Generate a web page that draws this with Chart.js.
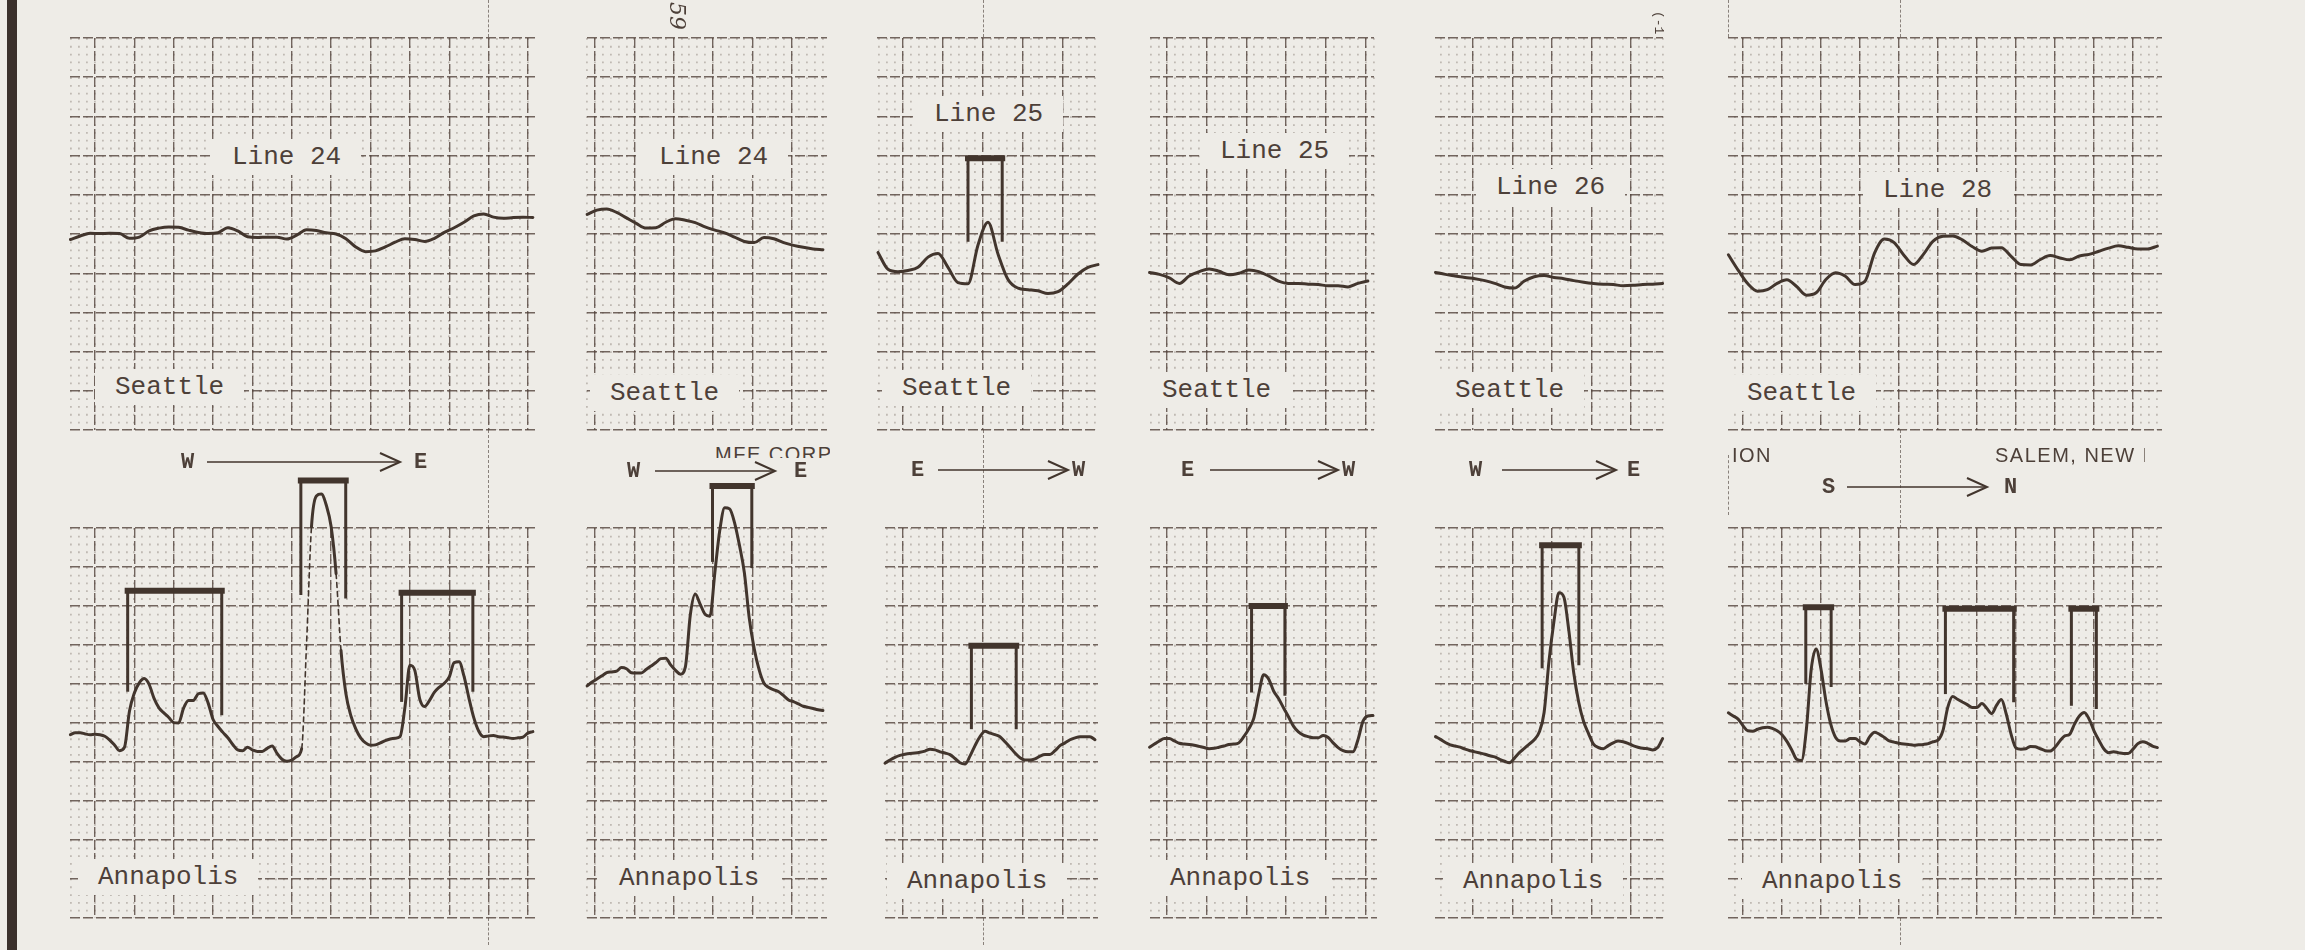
<!DOCTYPE html>
<html>
<head>
<meta charset="utf-8">
<script src="https://cdn.jsdelivr.net/npm/chart.js@4/dist/chart.umd.min.js"></script>
<style>
html, body { margin: 0; padding: 0; background: #eeece7; }
#page { position: relative; width: 2305px; height: 950px; overflow: hidden; background: #eeece7; }
canvas { position: absolute; z-index: 1; }
.t { position: absolute; z-index: 3; white-space: nowrap; line-height: 1; color: #4d4039;
     font-family: "Liberation Mono", "DejaVu Sans Mono", monospace; font-size: 26px; }
.lab { background: #eeece7; padding: 5px 20px; margin: -5px 0 0 -20px; }
.dir { font-size: 22px; font-weight: bold; }
.sans { font-family: "Liberation Sans", Arial, sans-serif; font-size: 20px; letter-spacing: 1.5px; }
.fold { position: absolute; z-index: 0; width: 0; border-left: 1.5px dashed rgba(70,58,52,0.6); }
svg { position: absolute; z-index: 3; overflow: visible; }
</style>
</head>
<body>
<div id="page"></div>
<script>
// ---- text ----
const lineLabels = ['Line 24', 'Line 24', 'Line 25', 'Line 25', 'Line 26', 'Line 28'];
const topStation = 'Seattle';
const bottomStation = 'Annapolis';
const dirFrom = ['W', 'W', 'E', 'E', 'W', 'S'];
const dirTo = ['E', 'E', 'W', 'W', 'E', 'N'];

// ---- traces, in grid divisions (y: 0 = bottom edge of strip, 10 = top edge) ----
const topStart = [-0.625, -0.2, -0.625, -0.44, -0.95, -0.375];
const topStep = 0.25;
const seattle1 = [4.86,4.95,5.02,5.01,5.02,5.01,4.89,4.92,5.08,5.15,5.18,5.17,5.10,5.04,5.01,5.03,5.16,5.08,4.93,4.91,4.92,4.92,4.87,4.97,5.11,5.09,5.03,5.00,4.88,4.67,4.55,4.57,4.67,4.79,4.88,4.86,4.81,4.89,5.04,5.16,5.30,5.46,5.51,5.43,5.40,5.42,5.43,5.42];
const seattle2 = [5.50,5.61,5.64,5.55,5.41,5.27,5.15,5.16,5.30,5.39,5.35,5.29,5.18,5.10,5.03,4.92,4.81,4.78,4.91,4.88,4.78,4.71,4.66,4.62,4.60];
const seattle3 = [4.53,4.10,4.04,4.07,4.15,4.41,4.50,4.15,3.76,3.73,4.72,5.30,4.49,3.84,3.62,3.58,3.55,3.48,3.53,3.73,3.98,4.15,4.22];
const seattle4 = [4.02,3.97,3.88,3.74,3.93,4.04,4.11,4.05,3.96,4.00,4.08,4.04,3.93,3.80,3.74,3.74,3.72,3.71,3.68,3.68,3.65,3.74,3.80];
const seattle5 = [4.02,3.97,3.93,3.89,3.86,3.81,3.74,3.65,3.62,3.80,3.91,3.94,3.89,3.86,3.81,3.77,3.74,3.72,3.71,3.68,3.69,3.71,3.72,3.74];
const seattle6 = [4.47,4.08,3.73,3.54,3.58,3.74,3.83,3.66,3.44,3.50,3.84,4.01,3.92,3.71,3.79,4.52,4.87,4.78,4.46,4.22,4.48,4.82,4.94,4.95,4.85,4.68,4.56,4.64,4.65,4.43,4.22,4.21,4.35,4.45,4.39,4.34,4.44,4.48,4.56,4.64,4.70,4.66,4.62,4.62,4.69];

const bottomStart = [-0.625, -0.2, -0.45, -0.44, -0.95, -0.375];
const bottomStep = 0.125;
const annapolis1 = [4.70,4.75,4.75,4.72,4.70,4.71,4.70,4.66,4.56,4.43,4.29,4.38,5.30,5.77,6.03,6.14,5.99,5.63,5.39,5.26,5.14,5.01,5.00,5.38,5.58,5.58,5.75,5.77,5.51,5.09,4.91,4.76,4.62,4.45,4.31,4.29,4.38,4.31,4.27,4.27,4.35,4.41,4.22,4.07,4.02,4.05,4.14,4.34,7.04,10.03,10.82,10.87,10.59,10.03,8.83,6.86,5.75,5.19,4.85,4.62,4.49,4.43,4.44,4.49,4.55,4.59,4.61,4.65,5.41,6.48,6.35,5.62,5.42,5.58,5.79,5.92,6.02,6.18,6.55,6.57,6.20,5.64,5.13,4.79,4.65,4.67,4.68,4.65,4.64,4.62,4.60,4.62,4.64,4.74,4.78];
const annapolis2 = [5.95,6.05,6.13,6.21,6.29,6.31,6.33,6.42,6.39,6.29,6.28,6.28,6.37,6.46,6.55,6.65,6.66,6.49,6.35,6.25,6.44,7.77,8.31,8.05,7.79,7.74,8.86,9.94,10.52,10.49,10.14,9.56,8.86,7.69,6.91,6.37,6.02,5.91,5.85,5.80,5.70,5.59,5.55,5.49,5.43,5.40,5.37,5.34,5.32];
const annapolis3 = [3.97,4.05,4.12,4.17,4.20,4.22,4.23,4.25,4.28,4.33,4.31,4.26,4.23,4.19,4.09,3.98,3.95,4.15,4.42,4.65,4.79,4.74,4.70,4.65,4.52,4.38,4.23,4.11,4.05,4.05,4.08,4.15,4.19,4.19,4.29,4.42,4.49,4.57,4.62,4.65,4.65,4.65,4.57];
const annapolis4 = [4.38,4.46,4.54,4.60,4.60,4.54,4.48,4.46,4.45,4.43,4.40,4.37,4.34,4.35,4.38,4.41,4.45,4.46,4.49,4.65,4.85,5.12,5.74,6.24,6.13,5.82,5.63,5.39,5.16,4.92,4.77,4.69,4.65,4.62,4.62,4.68,4.63,4.49,4.37,4.29,4.26,4.26,4.57,5.04,5.18,5.19];
const annapolis5 = [4.65,4.58,4.50,4.44,4.41,4.38,4.33,4.29,4.26,4.23,4.20,4.16,4.13,4.07,4.02,3.98,4.10,4.24,4.35,4.46,4.57,4.76,5.27,6.60,7.61,8.34,8.23,7.38,6.29,5.54,5.04,4.73,4.46,4.37,4.34,4.42,4.49,4.54,4.52,4.48,4.42,4.38,4.35,4.34,4.31,4.37,4.60];
const annapolis6 = [5.26,5.18,5.10,4.93,4.80,4.79,4.84,4.88,4.89,4.86,4.80,4.70,4.53,4.31,4.07,4.04,4.84,6.38,6.90,6.38,5.57,4.97,4.63,4.54,4.54,4.60,4.60,4.52,4.46,4.65,4.76,4.71,4.63,4.54,4.51,4.48,4.46,4.45,4.43,4.44,4.45,4.47,4.52,4.56,4.80,5.40,5.68,5.61,5.54,5.47,5.40,5.40,5.50,5.38,5.24,5.45,5.60,5.23,4.71,4.36,4.33,4.34,4.40,4.39,4.34,4.29,4.28,4.38,4.54,4.67,4.71,4.97,5.18,5.27,5.10,4.80,4.56,4.34,4.24,4.26,4.24,4.22,4.22,4.33,4.47,4.52,4.48,4.41,4.37];

// ---- marker brackets (chart 0-5 = Seattle strips, 6-11 = Annapolis strips) ----
const bracketChart     = [6, 6, 6, 7, 2, 8, 9, 10, 11, 11, 11];
const bracketLeft      = [0.83, 5.23, 7.79, 2.99, 1.625, 1.71, 2.13, 1.75, 1.61, 5.19, 8.42];
const bracketRight     = [3.22, 6.37, 9.60, 3.99, 2.48, 2.83, 2.97, 2.68, 2.26, 6.94, 9.06];
const bracketTop       = [8.39, 11.22, 8.34, 11.08, 6.93, 6.98, 8.00, 9.56, 7.97, 7.93, 7.93];
const bracketLeftFoot  = [5.84, 8.32, 5.58, 9.17, 4.84, 4.88, 5.82, 6.44, 6.04, 5.78, 5.48];
const bracketRightFoot = [5.24, 8.23, 5.84, 9.01, 4.84, 4.88, 5.74, 6.52, 5.96, 5.57, 5.40];

// ---- layout (pixels) ----
const ink = '#42352d';
const page = document.getElementById('page');
const rows = [{ top: 38, bottom: 429.5, padT: 30 }, { top: 528, bottom: 917.5, padT: 62 }];
const cols = [
  { l: 70, r: 535, x0: 95, sp: 39.36 },
  { l: 587, r: 827, x0: 595, sp: 39.3 },
  { l: 877, r: 1098, x0: 903, sp: 40, lb: 885 },
  { l: 1150, r: 1374, x0: 1167, sp: 39.7, rb: 1377 },
  { l: 1435, r: 1663, x0: 1473, sp: 39.5 },
  { l: 1728, r: 2162, x0: 1743, sp: 39 }
];

function gridTicks(min, max, step) {
  const out = [];
  for (let n = Math.ceil(min / step - 1e-6); n * step <= max + 1e-6; n++) out.push({ value: +(n * step).toFixed(4) });
  return out;
}

function axis(min, max, step, color, width, dash) {
  return {
    type: 'linear', min: min, max: max, bounds: 'data',
    afterBuildTicks: s => { s.ticks = gridTicks(min, max, step); },
    ticks: { display: false },
    grid: { color: color, lineWidth: width, drawTicks: false, tickLength: 0 },
    border: { display: false, dash: dash }
  };
}

const seattle = [seattle1, seattle2, seattle3, seattle4, seattle5, seattle6];
const annapolis = [annapolis1, annapolis2, annapolis3, annapolis4, annapolis5, annapolis6];

function makeChart(ci, ri) {
  const c = cols[ci], row = rows[ri];
  const L = (ri === 1 && c.lb) ? c.lb : c.l;
  const R = (ri === 1 && c.rb) ? c.rb : c.r;
  const T = row.top, B = row.bottom;
  const pad = { left: 6, right: 6, top: row.padT, bottom: 8 };
  const cv = document.createElement('canvas');
  cv.width = Math.round(R - L + pad.left + pad.right);
  cv.height = Math.round(B - T + pad.top + pad.bottom);
  cv.style.left = (L - pad.left) + 'px';
  cv.style.top = (T - pad.top) + 'px';
  page.appendChild(cv);

  const xmin = (L - c.x0) / c.sp, xmax = (R - c.x0) / c.sp;
  const dot = (B - T) / 50;
  const values = ri === 0 ? seattle[ci] : annapolis[ci];
  const start = ri === 0 ? topStart[ci] : bottomStart[ci];
  const step = ri === 0 ? topStep : bottomStep;
  const steep = s => Math.abs(s.p1.parsed.y - s.p0.parsed.y) > 1.9;

  const datasets = [{
    data: values.map((v, i) => ({ x: start + i * step, y: v })),
    borderColor: ink, borderWidth: 3, pointRadius: 0,
    cubicInterpolationMode: 'monotone', clip: false,
    borderCapStyle: 'round', borderJoinStyle: 'round',
    segment: {
      borderDash: s => steep(s) ? [5, 4] : undefined,
      borderWidth: s => steep(s) ? 1.6 : undefined
    }
  }];
  const id = ri * 6 + ci;
  bracketChart.forEach((b, k) => {
    if (b !== id) return;
    datasets.push({
      data: [
        { x: bracketLeft[k], y: bracketLeftFoot[k] },
        { x: bracketLeft[k], y: bracketTop[k] },
        { x: bracketRight[k], y: bracketTop[k] },
        { x: bracketRight[k], y: bracketRightFoot[k] }
      ],
      borderColor: ink, borderWidth: 3, pointRadius: 0, tension: 0, clip: false,
      borderCapStyle: 'square', borderJoinStyle: 'miter',
      segment: { borderWidth: s => s.p0DataIndex === 1 ? 6 : 3 }
    });
  });

  new Chart(cv, {
    type: 'line',
    data: { datasets: datasets },
    options: {
      responsive: false, animation: false, events: [],
      layout: { padding: pad },
      plugins: { legend: { display: false }, tooltip: { enabled: false } },
      scales: {
        x: axis(xmin, xmax, 1, 'rgba(82,68,60,0.8)', 1.4, [10, 3]),
        xm: Object.assign(axis(xmin, xmax, 0.2, 'rgba(82,68,60,0.3)', 1.8, [1.8, dot - 1.8]), { position: 'bottom' }),
        y: axis(0, 10, 1, 'rgba(82,68,60,0.8)', 1.4, [10, 3])
      }
    }
  });
}

for (let r = 0; r < 2; r++) for (let c = 0; c < 6; c++) makeChart(c, r);

// ---- text overlays ----
function text(str, x, y, cls, extra) {
  const d = document.createElement('div');
  d.className = 't ' + (cls || '');
  d.textContent = str;
  d.style.left = x + 'px';
  d.style.top = y + 'px';
  if (extra) Object.assign(d.style, extra);
  page.appendChild(d);
  return d;
}
const linePos = [[232, 147], [659, 147], [934, 104], [1220, 141], [1496, 177], [1883, 180]];
const seattlePos = [[115, 377], [610, 383], [902, 378], [1162, 380], [1455, 380], [1747, 383]];
const annapolisPos = [[98, 867], [619, 868], [907, 871], [1170, 868], [1463, 871], [1762, 871]];
for (let i = 0; i < 6; i++) {
  text(lineLabels[i], linePos[i][0], linePos[i][1] - 3, 'lab');
  text(topStation, seattlePos[i][0], seattlePos[i][1] - 3, 'lab');
  text(bottomStation, annapolisPos[i][0], annapolisPos[i][1] - 3, 'lab');
}

// direction arrows
const arrows = [
  { fx: 181, x1: 207, x2: 400, y: 462, tx: 414 },
  { fx: 627, x1: 655, x2: 775, y: 471, tx: 794 },
  { fx: 911, x1: 938, x2: 1068, y: 470, tx: 1072 },
  { fx: 1181, x1: 1210, x2: 1338, y: 470, tx: 1342 },
  { fx: 1469, x1: 1502, x2: 1616, y: 470, tx: 1627 },
  { fx: 1822, x1: 1847, x2: 1987, y: 487, tx: 2004 }
];
// "MFE CORP" imprint partly hidden under the second strip
const mfe = document.createElement('div');
Object.assign(mfe.style, { position: 'absolute', left: '715px', top: '444px', width: '115px', height: '14px', overflow: 'hidden', zIndex: 2 });
page.appendChild(mfe);
mfe.appendChild(text('MFE CORP', 0, 0, 'sans'));

arrows.forEach((a, i) => {
  text(dirFrom[i], a.fx, a.y - 10, 'dir');
  text(dirTo[i], a.tx, a.y - 10, 'dir');
  const w = a.x2 - a.x1;
  const s = document.createElementNS('http://www.w3.org/2000/svg', 'svg');
  s.setAttribute('width', w + 4);
  s.setAttribute('height', 24);
  s.style.left = (a.x1 - 2) + 'px';
  s.style.top = (a.y - 12) + 'px';
  s.innerHTML = '<line x1="2" y1="12" x2="' + (w + 2) + '" y2="12" stroke="' + ink + '" stroke-width="1.6"/>' +
    '<polyline points="' + (w - 18) + ',3 ' + (w + 2) + ',12 ' + (w - 18) + ',21" fill="none" stroke="' + ink + '" stroke-width="2"/>';
  page.appendChild(s);
});

text('ION', 1732, 445, 'sans', { fontSize: '20px' });
const salem = document.createElement('div');
Object.assign(salem.style, { position: 'absolute', left: '1995px', top: '445px', width: '150px', height: '24px', overflow: 'hidden', zIndex: 2 });
page.appendChild(salem);
salem.appendChild(text('SALEM, NEW HAMPSHIRE', 0, 0, 'sans'));

text('59', 662, 4, '', { fontFamily: '"DejaVu Serif", serif', fontStyle: 'italic', fontSize: '22px', transform: 'rotate(90deg)', transformOrigin: '14px 12px' });
text('(-1', 1648, 14, '', { fontSize: '13px', transform: 'rotate(90deg)', transformOrigin: '10px 7px' });

// dark edge of the scanned page
const edge = document.createElement('div');
Object.assign(edge.style, { position: 'absolute', left: '7px', top: '0', width: '10px', height: '950px', background: '#3b312c' });
page.appendChild(edge);

// fold lines visible between the strips
[[488, 0, 37], [488, 430, 528], [488, 918, 945],
 [983, 0, 37], [983, 430, 528], [983, 918, 945],
 [1900, 0, 37], [1900, 430, 528], [1900, 918, 945],
 [1728, 0, 37], [1728, 455, 515]].forEach(f => {
  const d = document.createElement('div');
  d.className = 'fold';
  d.style.left = f[0] + 'px';
  d.style.top = f[1] + 'px';
  d.style.height = (f[2] - f[1]) + 'px';
  page.appendChild(d);
});
</script>
</body>
</html>
